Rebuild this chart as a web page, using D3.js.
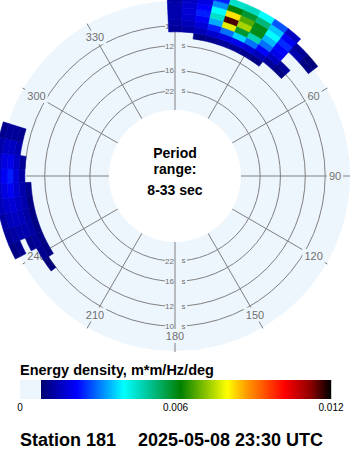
<!DOCTYPE html>
<html>
<head>
<meta charset="utf-8">
<script src="https://cdn.jsdelivr.net/npm/d3@7"></script>
<style>
  body { margin: 0; background: #fff; }
  svg { display: block; font-family: "Liberation Sans", Arial, sans-serif; }
</style>
</head>
<body>
<svg id="chart" width="350" height="450"></svg>
<script>
// frequency band centres (Hz), each band 0.005 Hz wide
const freqs = [0.0875, 0.0925, 0.0975, 0.1025, 0.1075, 0.1125, 0.1175, 0.1225, 0.1275];
// direction bins (deg), each 5 deg wide
const dirs = [235, 240, 245, 250, 255, 260, 265, 270, 275, 280, 285,
              0, 5, 10, 15, 20, 25, 30, 35, 40, 45, 50];
// energy density, m*m/Hz/deg, one row per direction, one column per band
const energy = [
  [0, 0, 0,      0.0009, 0,      0,      0,      0,      0],
  [0, 0, 0.0010, 0.0011, 0,      0,      0,      0,      0],
  [0, 0, 0.0010, 0.0012, 0.0011, 0,      0.0011, 0.0010, 0],
  [0, 0, 0.0010, 0.0013, 0.0014, 0.0014, 0.0013, 0.0012, 0],
  [0, 0, 0.0010, 0.0013, 0.0015, 0.0016, 0.0015, 0.0013, 0],
  [0, 0, 0.0010, 0.0014, 0.0016, 0.0018, 0.0017, 0.0015, 0],
  [0, 0, 0.0011, 0.0014, 0.0017, 0.0021, 0.0019, 0.0016, 0],
  [0, 0, 0,      0.0013, 0.0018, 0.0024, 0.0021, 0.0017, 0],
  [0, 0, 0,      0.0012, 0.0016, 0.0020, 0.0019, 0.0016, 0],
  [0, 0, 0,      0,      0.0014, 0.0016, 0.0016, 0.0014, 0],
  [0, 0, 0,      0,      0.0011, 0.0012, 0.0012, 0.0011, 0],
  [0, 0,      0.0012, 0.0013, 0.0014, 0.0014, 0.0014, 0.0013, 0.0012],
  [0, 0,      0.0013, 0.0015, 0.0017, 0.0018, 0.0017, 0.0016, 0.0014],
  [0, 0.0010, 0.0015, 0.0018, 0.0021, 0.0024, 0.0022, 0.0019, 0.0016],
  [0, 0.0011, 0.0017, 0.0024, 0.0034, 0.0045, 0.0040, 0.0032, 0.0024],
  [0, 0.0012, 0.0019, 0.0030, 0.0078, 0.0116, 0.0082, 0.0062, 0.0045],
  [0, 0.0012, 0.0020, 0.0037, 0.0058, 0.0074, 0.0068, 0.0058, 0.0046],
  [0, 0.0011, 0.0018, 0.0030, 0.0047, 0.0060, 0.0060, 0.0052, 0.0040],
  [0, 0.0010, 0.0015, 0.0022, 0.0030, 0.0035, 0.0040, 0.0036, 0.0028],
  [0, 0,      0.0012, 0.0016, 0.0020, 0.0022, 0.0025, 0.0021, 0.0016],
  [0, 0,      0.0010, 0.0012, 0,      0,      0.0014, 0.0012, 0],
  [0, 0,      0,      0,      0,      0,      0.0010, 0.0009, 0]
];
const dirTicks = [0, 30, 60, 90, 120, 150, 180, 210, 240, 270, 300, 330];
const periodTicks = [10, 12, 16, 22];
const legendTicks = ["0", "0.006", "0.012"];
const periodText = ["Period", "range:", "8-33 sec"];
const legendTitle = "Energy density, m*m/Hz/deg";
const station = "Station 181";
const stamp = "2025-05-08 23:30 UTC";

const cx = 175, cy = 176, diskR = 175, holeR = 66;
const diskColor = "#eef6fd", gridColor = "#808080", labelColor = "#707070";
const bandHalf = 0.0025, dirHalf = 2.5, minShown = 0.0008;
const rad = Math.PI / 180;

// radius follows frequency, 33 s at the inner hole
const r = d3.scaleLinear().domain([1 / 33, 1 / 8]).range([67, 180]);

const color = d3.scaleLinear()
    .domain([0.0008, 0.0022, 0.0040, 0.0049, 0.0062, 0.0080, 0.0087, 0.0102, 0.0112, 0.0120])
    .range(["#000070", "#0000ff", "#00ffff", "#00c8a0", "#008000", "#ffff00", "#ffa000", "#ff0000", "#900000", "#000000"])
    .clamp(true);

const svg = d3.select("#chart");
const polar = svg.append("g").attr("transform", `translate(${cx},${cy})`);

polar.append("circle").attr("r", diskR).attr("fill", diskColor);

// period rings
polar.selectAll(".ring").data(periodTicks).join("circle")
    .attr("class", "ring")
    .attr("r", T => r(1 / T))
    .attr("fill", "none").attr("stroke", gridColor).attr("stroke-width", 1);

// gaps in the rings where the period labels sit
const ringLabelPos = periodTicks.flatMap(T => [-1, 1].map(s => ({ T, y: s * r(1 / T) })));
polar.selectAll(".ringgap").data(ringLabelPos).join("rect")
    .attr("class", "ringgap")
    .attr("x", -10).attr("width", 22)
    .attr("y", d => d.y - 4).attr("height", 8)
    .attr("fill", diskColor);

// direction spokes
polar.selectAll(".spoke").data(dirTicks).join("line")
    .attr("class", "spoke")
    .attr("x1", d => holeR * Math.sin(d * rad)).attr("y1", d => -holeR * Math.cos(d * rad))
    .attr("x2", d => 176 * Math.sin(d * rad)).attr("y2", d => -176 * Math.cos(d * rad))
    .attr("stroke", gridColor).attr("stroke-width", 1);

// direction labels with a patch behind them
const dirLab = polar.selectAll(".dirlab").data(dirTicks).join("g")
    .attr("class", "dirlab")
    .attr("transform", d => `translate(${160 * Math.sin(d * rad)},${-160 * Math.cos(d * rad)})`);
dirLab.append("rect").attr("fill", diskColor);
dirLab.append("text")
    .attr("text-anchor", "middle").attr("dy", "0.36em")
    .attr("font-size", 11).attr("fill", labelColor)
    .text(d => d);
dirLab.each(function () {
  const b = d3.select(this).select("text").node().getBBox();
  d3.select(this).select("rect")
    .attr("x", b.x - 2).attr("y", b.y - 1).attr("width", b.width + 4).attr("height", b.height + 2);
});

// period labels: number left of the spoke, "s" right of it
polar.selectAll(".pnum").data(ringLabelPos).join("text")
    .attr("class", "pnum")
    .attr("x", -1).attr("y", d => d.y).attr("dy", "0.35em")
    .attr("text-anchor", "end").attr("font-size", 8).attr("fill", labelColor)
    .text(d => d.T);
polar.selectAll(".punit").data(ringLabelPos).join("text")
    .attr("class", "punit")
    .attr("x", 6.5).attr("y", d => d.y).attr("dy", "0.3em")
    .attr("text-anchor", "start").attr("font-size", 8).attr("fill", labelColor)
    .text("s");

// spectrum cells, drawn over the grid
const arc = d3.arc();
const cells = [];
dirs.forEach((d, i) => freqs.forEach((f, j) => {
  const v = energy[i][j];
  if (v >= minShown) cells.push({ d, f, v });
}));
polar.append("g").attr("class", "cells")
  .selectAll("path").data(cells).join("path")
    .attr("d", c => arc({
      innerRadius: r(c.f - bandHalf), outerRadius: r(c.f + bandHalf),
      startAngle: (c.d - dirHalf) * rad, endAngle: (c.d + dirHalf) * rad
    }))
    .attr("fill", c => color(c.v))
    .attr("stroke", c => color(c.v)).attr("stroke-width", 0.6);

// empty centre
polar.append("circle").attr("r", holeR).attr("fill", "#fff");
polar.selectAll(".ctext").data(periodText).join("text")
    .attr("class", "ctext")
    .attr("text-anchor", "middle")
    .attr("y", (d, i) => [-18, -2, 19][i])
    .attr("font-size", 14).attr("font-weight", "bold").attr("fill", "#000")
    .text(d => d);

// colour legend
const lx = d3.scaleLinear().domain([0, 0.012]).range([20, 331]);
const legend = svg.append("g");
legend.append("text")
    .attr("x", 20).attr("y", 375)
    .attr("font-size", 14.5).attr("font-weight", "bold")
    .text(legendTitle);
legend.append("rect")
    .attr("x", lx(0)).attr("y", 380).attr("width", lx(minShown) - lx(0)).attr("height", 19)
    .attr("fill", diskColor);
legend.selectAll(".bar").data(d3.range(Math.round(lx(minShown)), 331)).join("rect")
    .attr("class", "bar")
    .attr("x", x => x).attr("y", 380).attr("width", 1.2).attr("height", 19)
    .attr("fill", x => color(lx.invert(x + 0.5)));
legend.selectAll(".tick").data(legendTicks).join("text")
    .attr("class", "tick")
    .attr("x", t => lx(+t)).attr("y", 411)
    .attr("text-anchor", "middle").attr("font-size", 10).attr("fill", "#000")
    .text(t => t);

svg.append("text").attr("x", 20).attr("y", 446)
    .attr("font-size", 18).attr("font-weight", "bold").text(station);
svg.append("text").attr("x", 138).attr("y", 446)
    .attr("font-size", 18).attr("font-weight", "bold").text(stamp);
</script>
</body>
</html>
